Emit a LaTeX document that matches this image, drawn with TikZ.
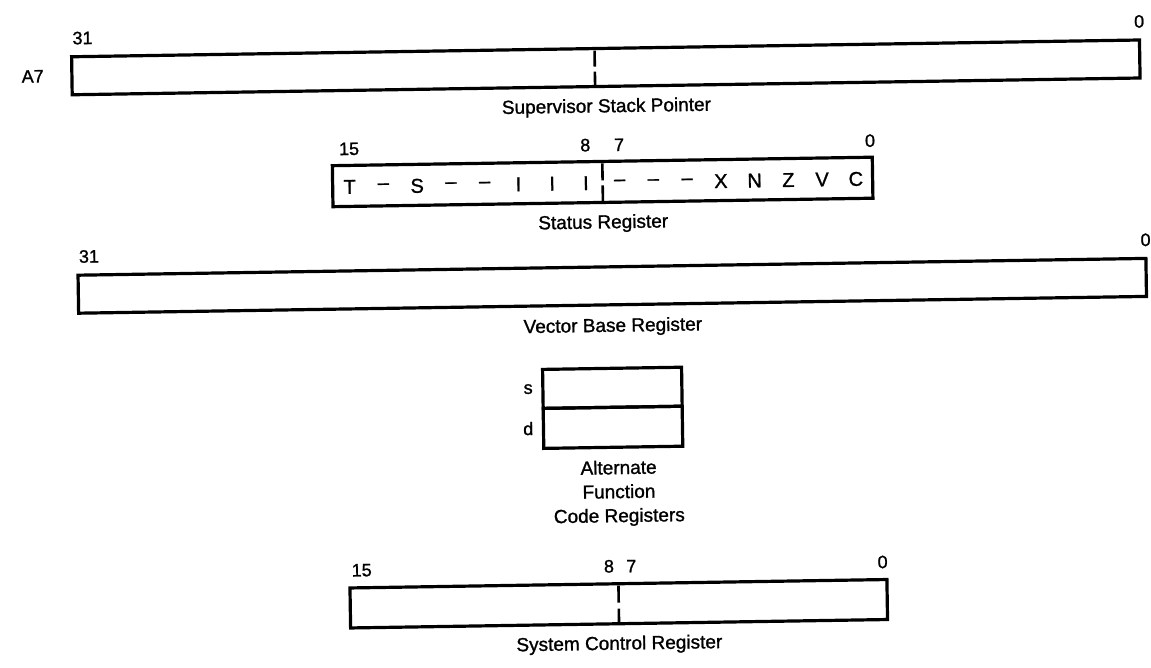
\documentclass[tikz,border=0pt]{standalone}
\usepackage{fontspec}
\setmainfont{Liberation Sans}[FakeBold=1.2]
\usetikzlibrary{positioning}
\tikzset{
  reg/.style={draw=black,line width=3.2pt,minimum height=38pt,inner sep=0pt,outer sep=0pt},
  bitno/.style={font=\fontsize{18}{20}\selectfont,inner sep=0pt},
  regname/.style={font=\fontsize{19}{24}\selectfont,inner sep=0pt,align=center},
  flag/.style={font=\fontsize{20}{22}\selectfont,inner sep=0pt},
  split/.style={line width=2.6pt,dash pattern=on 16pt off 5pt,shorten <=2pt}
}

\begin{document}
\begin{tikzpicture}[x=1pt,y=-1pt]
  \useasboundingbox (0,0) rectangle (1151,667);
  \begin{scope}[rotate around={0.9:(600,333)},transform shape]
  % supervisor stack pointer
  \node[reg,minimum width=1068pt] (ssp) at (610,67.5) {};
  \node[bitno,anchor=east,xshift=-28pt] (a7) at (ssp.west) {A7};
  \node[bitno,anchor=south west,xshift=1pt,yshift=12pt] (ssp31) at (ssp.north west) {31};
  \node[bitno,anchor=south,yshift=12pt] (ssp0) at (ssp.north east) {0};
  \coordinate (sspcut) at (599,67.5);
  \draw[split] (sspcut |- ssp.north) -- (sspcut |- ssp.south);
  \node[regname,anchor=north,yshift=-12pt] (ssplbl) at (ssp.south) {Supervisor Stack Pointer};
  % status register
  \node[reg,minimum width=540pt,minimum height=41pt] (sr) at (605,182) {};
  \foreach \f [count=\i from 0] in {T,--,S,--,--,I,I,I,--,--,--,X,N,Z,V,C}
    \node[flag] (srb\i) at ({352+\i*33.75},183) {\f};
  \draw[split,dash pattern=on 17pt off 5pt] (sr.north) -- (sr.south);
  \node[bitno,anchor=south,yshift=10pt] (sr15) at (srb0 |- sr.north) {15};
  \node[bitno,anchor=south,yshift=10pt] (sr8) at (srb7 |- sr.north) {8};
  \node[bitno,anchor=south,yshift=10pt] (sr7) at (srb8 |- sr.north) {7};
  \node[bitno,anchor=south,xshift=-2pt,yshift=10pt] (sr0) at (sr.north east) {0};
  \node[regname,anchor=north,yshift=-12pt] (srlbl) at (sr.south) {Status Register};
  % vector base register
  \node[reg,minimum width=1068pt] (vbr) at (613,286) {};
  \node[bitno,anchor=south west,xshift=1pt,yshift=12pt] (vbr31) at (vbr.north west) {31};
  \node[bitno,anchor=south,yshift=12pt] (vbr0) at (vbr.north east) {0};
  \node[regname,anchor=north,yshift=-13pt] (vbrlbl) at (vbr.south) {Vector Base Register};
  % alternate function code registers
  \node[reg,minimum width=139pt,minimum height=39pt] (sfc) at (611.5,388) {};
  \node[reg,minimum width=139pt,minimum height=40pt,below=0pt of sfc] (dfc) {};
  \node[bitno,anchor=east,xshift=-10pt] (sfcname) at (sfc.west) {s};
  \node[bitno,anchor=east,xshift=-10pt] (dfcname) at (dfc.west) {d};
  \node[regname,anchor=north,xshift=5pt,yshift=-13pt] (afclbl) at (dfc.south) {Alternate\\Function\\Code Registers};
  % system control register
  \node[reg,minimum width=537pt,minimum height=40pt] (scr) at (614.5,604) {};
  \draw[split,dash pattern=on 17pt off 6pt] (scr.north) -- (scr.south);
  \node[bitno,anchor=south,yshift=11pt] (scr15) at ([xshift=12pt]scr.north west) {15};
  \node[bitno,anchor=south east,xshift=-4pt,yshift=11pt] (scr8) at (scr.north) {8};
  \node[bitno,anchor=south west,xshift=8pt,yshift=11pt] (scr7) at (scr.north) {7};
  \node[bitno,anchor=south,xshift=-4pt,yshift=11pt] (scr0) at (scr.north east) {0};
  \node[regname,anchor=north,yshift=-12pt] (scrlbl) at (scr.south) {System Control Register};
  \end{scope}
\end{tikzpicture}
\end{document}
